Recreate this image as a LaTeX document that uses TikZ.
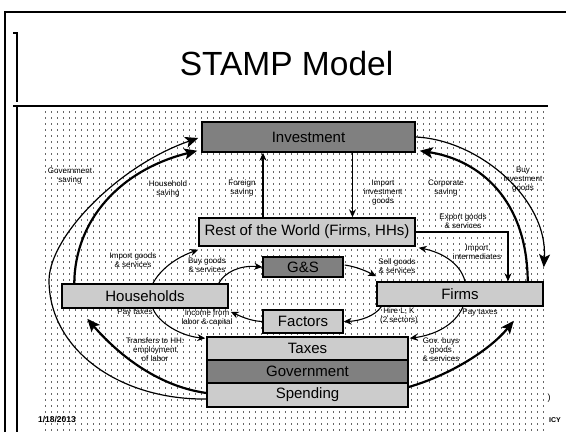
\documentclass[tikz,border=0pt]{standalone}
\usepackage{fontspec}
\setmainfont{Liberation Sans}
\usetikzlibrary{arrows.meta,calc}
\pgfdeclarelayer{bg}
\pgfdeclarelayer{mid}
\pgfsetlayers{bg,mid,main}
\begin{document}
\begin{tikzpicture}[x=1pt,y=-1pt,
  box/.style={draw=black,line width=1.5pt,inner sep=0pt,font=\fontsize{15}{17}\selectfont},
  darkbox/.style={box,fill=black!50},
  lightbox/.style={box,fill=black!20},
  lbl/.style={font=\fontsize{8}{9}\selectfont,align=center,inner sep=0pt},
  thinarr/.style={line width=1.1pt,-{Stealth[length=8pt,width=7pt]}},
  thinbig/.style={line width=1.2pt,-{Stealth[length=13pt,width=11pt,inset=3pt]}},
  thickarr/.style={line width=2.2pt,-{Stealth[length=13pt,width=11pt,inset=3pt]}},
  frameline/.style={line width=1.2pt},
  dotrow/.style={line width=1.1pt,black!60,dash pattern=on 1.1pt off 4.9pt}
]
\useasboundingbox (0,0) rectangle (566,432);

% background dots
\begin{pgfonlayer}{bg}
\foreach \yy in {112,118,...,430} {\draw[dotrow] (45,\yy) -- (548,\yy);}
\end{pgfonlayer}

% slide frame
\draw[line width=2pt] (5,432) -- (5,12) -- (566,12);
\draw[frameline] (13,33) -- (17,33) -- (17,102);
\draw[frameline] (13,106) -- (548,106);
\draw[frameline] (17,106) -- (17,432);

\node[font=\fontsize{33.5}{36}\selectfont,anchor=base] (title) at (286.5,75) {STAMP Model};

% boxes
\node[darkbox,minimum width=213pt,minimum height=30pt] (inv) at (308.5,137) {Investment};
\node[lightbox,minimum width=216pt,minimum height=28pt] (row) at (307,232) {Rest of the World (Firms, HHs)};
\node[darkbox,minimum width=80pt,minimum height=20pt] (gs) at (303,267) {G\&S};
\node[lightbox,minimum width=166pt,minimum height=24pt] (hh) at (145,296) {Households};
\node[lightbox,minimum width=166pt,minimum height=24pt] (firms) at (460,294) {Firms};
\node[lightbox,minimum width=80pt,minimum height=23pt] (fac) at (303,321.5) {Factors};
\node[lightbox,minimum width=201pt,minimum height=23pt] (tax) at (307.5,348.5) {Taxes};
\node[darkbox,minimum width=201pt,minimum height=23pt] (gov) at (307.5,371.5) {Government};
\node[lightbox,minimum width=201pt,minimum height=24pt] (spend) at (307.5,395) {Spending};

% connectors
\begin{pgfonlayer}{mid}
\draw[thinbig] ($(spend.west)+(0,4)$) .. controls (120,400) and (49,350) .. (49,280)
   .. controls (50,235) and (120,165) .. ($(inv.west)+(-3,1)$);
\draw[thickarr] ($(hh.north west)+(13,0)$) .. controls (75,220) and (120,170) .. ($(inv.south west)+(-4,-2)$);
\draw[thinarr] ($(row.north)+(-44,0)$) -- ($(inv.south)+(-45.5,0)$);
\draw[thinarr] ($(inv.south)+(44,0)$) -- ($(row.north)+(45.5,0)$);
\draw[thickarr] ($(firms.north east)+(-16,0)$) .. controls (527,200) and (480,160) .. ($(inv.south east)+(4,-2)$);
\draw[thinbig] (inv.east) .. controls (480,140) and (548,200) .. ($(firms.north east)+(0,-14)$);
\draw[thinarr] (row.east) -| ($(firms.north)+(48,0)$);
\draw[thinarr] ($(firms.north)+(5,0)$) .. controls (460,262) and (440,252) .. ($(row.south east)+(3,1)$);
\draw[thinarr] ($(hh.north)+(8,0)$) .. controls (160,270) and (175,258) .. ($(row.south west)+(0,3)$);
\draw[thinarr] ($(hh.north east)+(-10,0)$) .. controls (225,272) and (240,265) .. (gs.west);
\draw[thinarr] ($(gs.east)+(1,-2)$) .. controls (358,267) and (368,272) .. ($(firms.north west)+(0,-5)$);
\draw[thinarr] ($(firms.south west)+(5,0)$) .. controls (375,316) and (360,321) .. (fac.east);
\draw[thinarr] (fac.west) .. controls (250,321) and (240,316) .. ($(hh.south east)+(2,3)$);
\draw[thinarr] ($(hh.south)+(8,0)$) .. controls (158,322) and (180,336) .. ($(tax.north west)+(-1,2)$);
\draw[thinarr] ($(firms.south)+(3,0)$) .. controls (455,325) and (435,335) .. ($(tax.north east)+(1,2)$);
\draw[thickarr] ($(spend.west)+(0,-2)$) .. controls (150,385) and (110,345) .. ($(hh.south west)+(26,10)$);
\draw[thickarr] ($(spend.east)+(0,-8)$) .. controls (450,375) and (490,350) .. ($(firms.south east)+(-30,14)$);
\end{pgfonlayer}

% labels
\node[lbl] (l1) at (70,176) {Government\\saving};
\node[lbl] (l2) at (168,189) {Household\\saving};
\node[lbl] (l3) at (242,188) {Foreign\\saving};
\node[lbl] (l4) at (383,193) {Import\\investment\\goods};
\node[lbl] (l5) at (446,188) {Corporate\\saving};
\node[lbl] (l6) at (523,180) {Buy\\investment\\goods};
\node[lbl] (l7) at (463,221) {Export goods\\\& services};
\node[lbl] (l8) at (477,252) {Import\\intermediates};
\node[lbl] (l9) at (133,260) {Import goods\\\& services};
\node[lbl] (l10) at (207,265) {Buy goods\\\& services};
\node[lbl] (l11) at (397,266) {Sell goods\\\& services};
\node[lbl] (l12) at (399,316) {Hire L, K\\(2 sectors)};
\node[lbl] (l13) at (207,318) {Income from\\labor \& capital};
\node[lbl] (l14) at (135,313) {Pay taxes};
\node[lbl] (l15) at (480,313) {Pay taxes};
\node[lbl] (l16) at (155,350) {Transfers to HH:\\employment\\of labor};
\node[lbl] (l17) at (441,350) {Gov. buys\\goods\\\& services};

% slide footer bits
\node[font=\bfseries\fontsize{8.5}{9}\selectfont] (date) at (57,419) {1/18/2013};
\node[font=\fontsize{9}{10}\selectfont] (par) at (549,398) {)};
\node[font=\bfseries\fontsize{7}{8}\selectfont] (icy) at (555,420) {ICY};
\end{tikzpicture}
\end{document}
